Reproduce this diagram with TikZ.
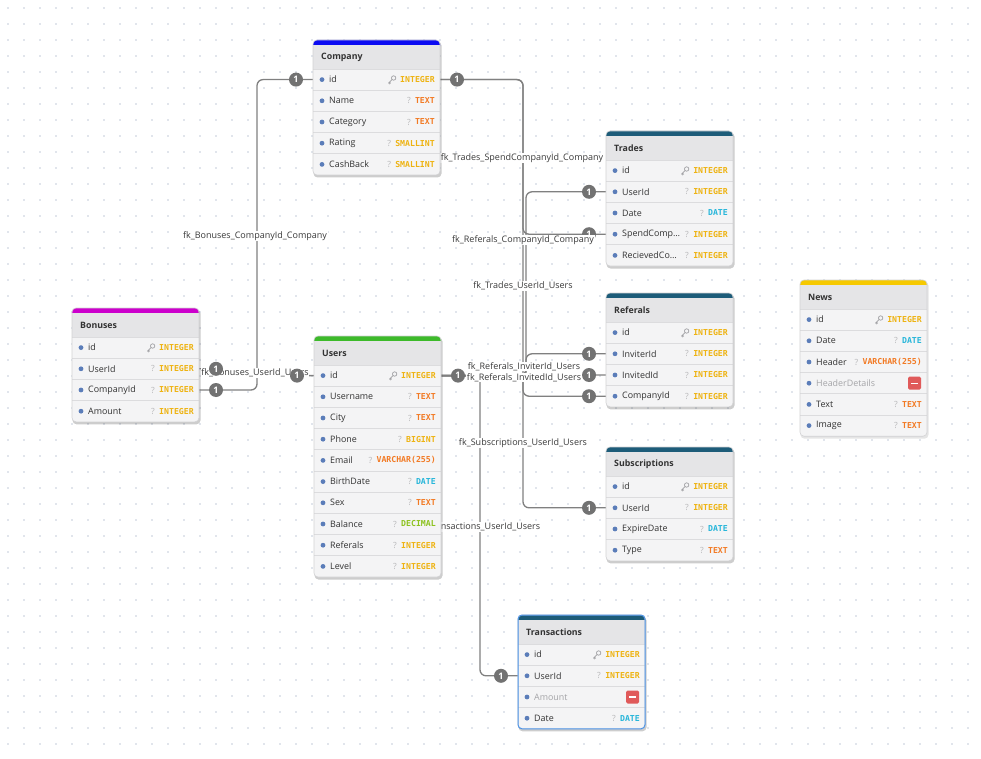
\documentclass[tikz,border=0pt]{standalone}
\usepackage{fontspec}
\setmainfont{Open Sans}
\newfontfamily\monofnt{DejaVu Sans Mono}
\usetikzlibrary{calc}
\definecolor{gridc}{HTML}{C3CCDA}
\definecolor{rowbg}{HTML}{F4F4F5}
\definecolor{headbg}{HTML}{E5E5E7}
\definecolor{sepc}{HTML}{DCDCDE}
\definecolor{tblborder}{HTML}{D2D2D4}
\definecolor{dotblue}{HTML}{5B7DB9}
\definecolor{nametc}{HTML}{333333}
\definecolor{remgray}{HTML}{A5A5A8}
\definecolor{remred}{HTML}{E05A5A}
\definecolor{tint}{HTML}{EEB312}
\definecolor{ttext}{HTML}{F27A24}
\definecolor{tdate}{HTML}{27B6DA}
\definecolor{tdec}{HTML}{8DC21F}
\definecolor{qc}{HTML}{B8B8BA}
\definecolor{keyc}{HTML}{A0A0A4}
\definecolor{connc}{HTML}{808080}
\definecolor{badgec}{HTML}{727272}
\definecolor{labc}{HTML}{3A3A3A}
\definecolor{cblue}{HTML}{0B0BF2}
\definecolor{ugreen}{HTML}{3DBA2A}
\definecolor{bmag}{HTML}{CC00CC}
\definecolor{nyel}{HTML}{F6C900}
\definecolor{teal}{HTML}{1D5C79}
\definecolor{selblue}{HTML}{4D94E8}
\tikzset{
  conn/.style={draw=connc,line width=1.3,rounded corners=6},
  badge/.style={circle,fill=badgec,minimum size=14,inner sep=0,text=white,font=\fontsize{9}{9}\selectfont\bfseries},
  fklabel/.style={fill=white,inner sep=0.6,text=labc,font=\fontsize{9}{10}\selectfont},
  headtxt/.style={inner sep=0,text=nametc,font=\fontsize{8.8}{10}\selectfont\bfseries},
  nametxt/.style={inner sep=0,text=nametc,font=\fontsize{8.9}{10}\selectfont},
  typetxt/.style={inner sep=0,font=\monofnt\fontsize{8.2}{10}\selectfont\bfseries},
  qtxt/.style={inner sep=0,text=qc,font=\fontsize{8.5}{10}\selectfont}
}
\def\remmark{-}
\newcommand{\keyicon}[1]{%
  \begin{scope}[shift={($(#1.west)+(-8,0)$)}]
    \draw[keyc,line width=0.7] (1.6,-1.6) circle (2.2);
    \draw[keyc,line width=0.7] (0.1,-0.1) -- (-3.6,3.6) (-2.5,2.5) -- (-1.3,3.7) (-3.4,3.4) -- (-2.3,4.5);
  \end{scope}}
\newcommand{\qicon}[1]{\node[qtxt,anchor=east] at ($(#1.west)+(-4,0)$) {?};}
\newcommand{\erdtable}[7]{%
  \pgfmathsetmacro{\tbot}{#3+29+21.2*#6}
  \fill[black,opacity=0.10,rounded corners=4] ({#2+0.5},{#3+1.5}) rectangle ({#2+128.5},{\tbot+2.5});
  \fill[rowbg,rounded corners=4] (#2,#3) rectangle ({#2+127},\tbot);
  \fill[#4,rounded corners=4] (#2,#3) rectangle ({#2+127},{#3+10});
  \fill[headbg] (#2,{#3+5}) rectangle ({#2+127},{#3+29});
  \node[headtxt,anchor=west] (#1-title) at ({#2+8},{#3+17}) {#5};
  \foreach \nm/\ty/\tc/\ic [count=\i from 0] in {#7}{%
    \pgfmathsetmacro{\yt}{#3+29+21.2*\i}
    \pgfmathsetmacro{\yc}{\yt+10.6}
    \draw[sepc,line width=0.9] (#2,\yt) -- ({#2+127},\yt);
    \fill[dotblue] ({#2+9},\yc) circle (2.4);
    \coordinate (#1-\i-w) at (#2,\yc);
    \coordinate (#1-\i-e) at ({#2+127},\yc);
    \ifx\ty\remmark
      \node[nametxt,anchor=west,text=remgray] (#1-\i) at ({#2+16},\yc) {\nm};
      \fill[remred,rounded corners=1.5] ({#2+108},{\yc-6.5}) rectangle ({#2+121},{\yc+6.5});
      \draw[white,line width=1.3] ({#2+111},\yc) -- ({#2+118},\yc);
    \else
      \node[nametxt,anchor=west] (#1-\i) at ({#2+16},\yc) {\nm};
      \node[typetxt,anchor=east,text=\tc] (#1-\i-t) at ({#2+122},\yc) {\ty};
      \ic{#1-\i-t}
    \fi
  }
  \draw[tblborder,line width=0.6,rounded corners=4] (#2,#3) rectangle ({#2+127},\tbot);
}
\begin{document}
\begin{tikzpicture}[x=1pt,y=-1pt]
\fill[white] (0,0) rectangle (981,759);
\useasboundingbox (0,0) rectangle (981,759);
% dotted canvas grid
\foreach \gx in {8,24,...,980}{\foreach \gy in {8,24,...,758}{\fill[gridc] (\gx,\gy) circle (0.8);}}
% pre-pass (invisible) so that row coordinates exist before the connectors
\begin{scope}[opacity=0]
\erdtable{comp}{313}{40}{cblue}{Company}{5}{id/INTEGER/tint/\keyicon, Name/TEXT/ttext/\qicon, Category/TEXT/ttext/\qicon, Rating/SMALLINT/tint/\qicon, CashBack/SMALLINT/tint/\qicon}
\erdtable{trades}{606}{131}{teal}{Trades}{5}{id/INTEGER/tint/\keyicon, UserId/INTEGER/tint/\qicon, Date/DATE/tdate/\qicon, SpendComp…/INTEGER/tint/\qicon, RecievedCo…/INTEGER/tint/\qicon}
\erdtable{ref}{606}{293}{teal}{Referals}{4}{id/INTEGER/tint/\keyicon, InviterId/INTEGER/tint/\qicon, InvitedId/INTEGER/tint/\qicon, CompanyId/INTEGER/tint/\qicon}
\erdtable{sub}{606}{447}{teal}{Subscriptions}{4}{id/INTEGER/tint/\keyicon, UserId/INTEGER/tint/\qicon, ExpireDate/DATE/tdate/\qicon, Type/TEXT/ttext/\qicon}
\erdtable{users}{314}{336}{ugreen}{Users}{10}{id/INTEGER/tint/\keyicon, Username/TEXT/ttext/\qicon, City/TEXT/ttext/\qicon, Phone/BIGINT/tint/\qicon, Email/VARCHAR(255)/ttext/\qicon, BirthDate/DATE/tdate/\qicon, Sex/TEXT/ttext/\qicon, Balance/DECIMAL/tdec/\qicon, Referals/INTEGER/tint/\qicon, Level/INTEGER/tint/\qicon}
\erdtable{bon}{72}{308}{bmag}{Bonuses}{4}{id/INTEGER/tint/\keyicon, UserId/INTEGER/tint/\qicon, CompanyId/INTEGER/tint/\qicon, Amount/INTEGER/tint/\qicon}
\erdtable{tr}{518}{615}{teal}{Transactions}{4}{id/INTEGER/tint/\keyicon, UserId/INTEGER/tint/\qicon, Amount/-/tint/\relax, Date/DATE/tdate/\qicon}
\end{scope}
% connectors
\draw[conn] (comp-0-w) -- ++(-56,0) |- (bon-2-e);
\draw[conn] (bon-1-e) -- ++(72,0) |- (users-0-w);
\draw[conn] (comp-0-e) -- ++(83,0) |- (trades-3-w);
\draw[conn] (comp-0-e) -- ++(83,0) |- (ref-3-w);
\draw[conn] (users-0-e) -- ++(85,0) |- (trades-1-w);
\draw[conn] (users-0-e) -- ++(85,0) |- (ref-1-w);
\draw[conn] (users-0-e) -- ++(85,0) |- (ref-2-w);
\draw[conn] (users-0-e) -- ++(82,0) |- (sub-1-w);
\draw[conn] (users-0-e) -- ++(39,0) |- (tr-1-w);
% connector labels
\node[fklabel] (l1) at (255,236) {fk\_Bonuses\_CompanyId\_Company};
\node[fklabel] (l2) at (255,373) {fk\_Bonuses\_UserId\_Users};
\node[fklabel] (l3) at (522,158) {fk\_Trades\_SpendCompanyId\_Company};
\node[fklabel] (l5) at (523,286) {fk\_Trades\_UserId\_Users};
\node[fklabel] (l6) at (524,366.5) {fk\_Referals\_InviterId\_Users};
\node[fklabel] (l7) at (524,377.5) {fk\_Referals\_InvitedId\_Users};
\node[fklabel] (l8) at (523,443) {fk\_Subscriptions\_UserId\_Users};
\node[fklabel,anchor=east] (l9) at (541,527) {fk\_Transactions\_UserId\_Users};
% tables
\erdtable{comp}{313}{40}{cblue}{Company}{5}{id/INTEGER/tint/\keyicon, Name/TEXT/ttext/\qicon, Category/TEXT/ttext/\qicon, Rating/SMALLINT/tint/\qicon, CashBack/SMALLINT/tint/\qicon}
\erdtable{trades}{606}{131}{teal}{Trades}{5}{id/INTEGER/tint/\keyicon, UserId/INTEGER/tint/\qicon, Date/DATE/tdate/\qicon, SpendComp…/INTEGER/tint/\qicon, RecievedCo…/INTEGER/tint/\qicon}
\erdtable{ref}{606}{293}{teal}{Referals}{4}{id/INTEGER/tint/\keyicon, InviterId/INTEGER/tint/\qicon, InvitedId/INTEGER/tint/\qicon, CompanyId/INTEGER/tint/\qicon}
\erdtable{sub}{606}{447}{teal}{Subscriptions}{4}{id/INTEGER/tint/\keyicon, UserId/INTEGER/tint/\qicon, ExpireDate/DATE/tdate/\qicon, Type/TEXT/ttext/\qicon}
\erdtable{users}{314}{336}{ugreen}{Users}{10}{id/INTEGER/tint/\keyicon, Username/TEXT/ttext/\qicon, City/TEXT/ttext/\qicon, Phone/BIGINT/tint/\qicon, Email/VARCHAR(255)/ttext/\qicon, BirthDate/DATE/tdate/\qicon, Sex/TEXT/ttext/\qicon, Balance/DECIMAL/tdec/\qicon, Referals/INTEGER/tint/\qicon, Level/INTEGER/tint/\qicon}
\erdtable{bon}{72}{308}{bmag}{Bonuses}{4}{id/INTEGER/tint/\keyicon, UserId/INTEGER/tint/\qicon, CompanyId/INTEGER/tint/\qicon, Amount/INTEGER/tint/\qicon}
\erdtable{news}{800}{280}{nyel}{News}{6}{id/INTEGER/tint/\keyicon, Date/DATE/tdate/\qicon, Header/VARCHAR(255)/ttext/\qicon, HeaderDetails/-/tint/\relax, Text/TEXT/ttext/\qicon, Image/TEXT/ttext/\qicon}
\erdtable{tr}{518}{615}{teal}{Transactions}{4}{id/INTEGER/tint/\keyicon, UserId/INTEGER/tint/\qicon, Amount/-/tint/\relax, Date/DATE/tdate/\qicon}
\draw[selblue,line width=1,rounded corners=4] (518,615) rectangle (645,{615+29+4*21.2});
% cardinality badges
\node[badge,xshift=-17] (b1) at (comp-0-w) {1};
\node[badge,xshift=17] (b2) at (comp-0-e) {1};
\node[badge,xshift=17] (b3) at (bon-1-e) {1};
\node[badge,xshift=17] (b4) at (bon-2-e) {1};
\node[badge,xshift=-17] (b5) at (users-0-w) {1};
\node[badge,xshift=17] (b6) at (users-0-e) {1};
\node[badge,xshift=-17] (b7) at (trades-1-w) {1};
\node[badge,xshift=-17] (b8) at (trades-3-w) {1};
\node[badge,xshift=-17] (b9) at (ref-1-w) {1};
\node[badge,xshift=-17] (b10) at (ref-2-w) {1};
\node[badge,xshift=-17] (b11) at (ref-3-w) {1};
\node[badge,xshift=-17] (b12) at (sub-1-w) {1};
\node[badge,xshift=-17] (b13) at (tr-1-w) {1};
% this label lies over the badge below it, as in the reference
\node[fklabel] (l4) at (523,240) {fk\_Referals\_CompanyId\_Company};
\end{tikzpicture}
\end{document}
